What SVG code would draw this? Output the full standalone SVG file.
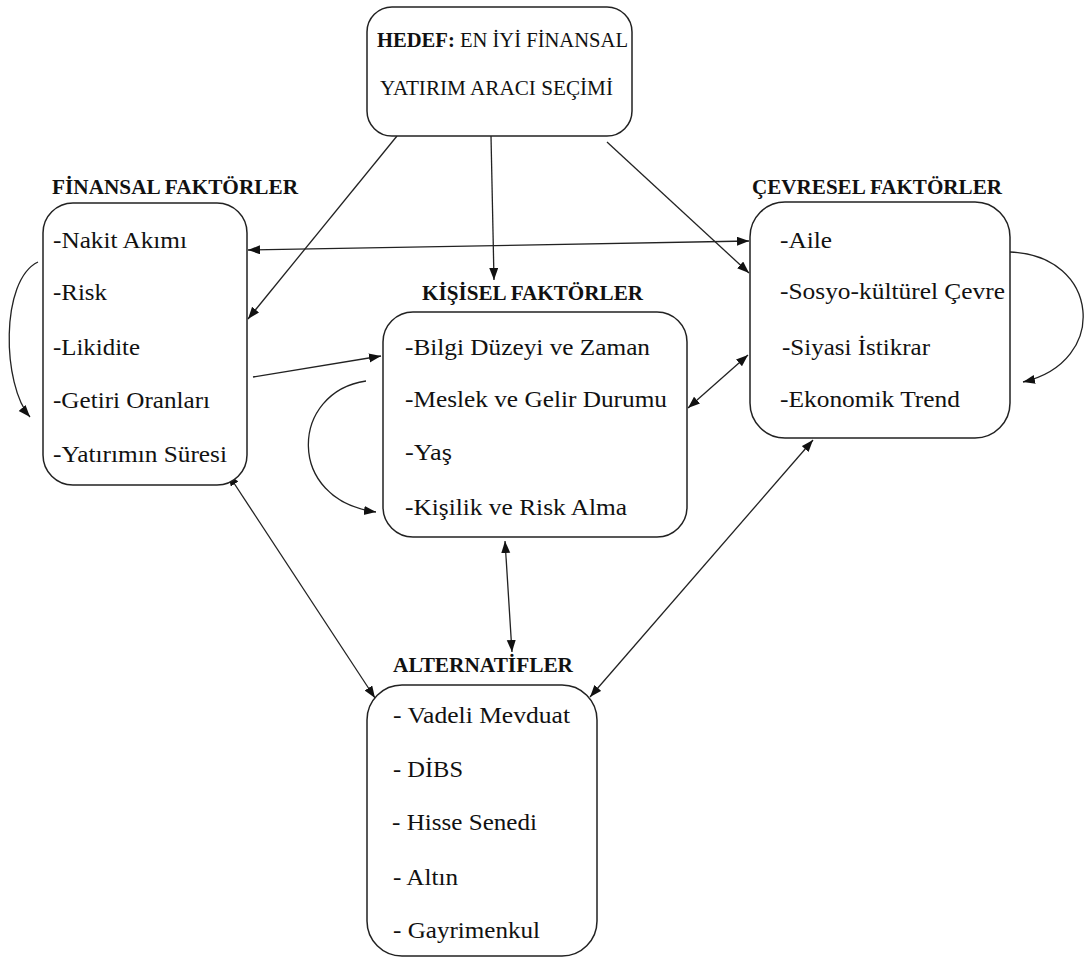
<svg xmlns="http://www.w3.org/2000/svg" width="1088" height="959" viewBox="0 0 1088 959">
<defs>
<style>
.box{fill:#fff;stroke:#222;stroke-width:1.5}
.t{font-family:'Liberation Serif',serif;font-size:23px;fill:#111}
.m{font-family:'Liberation Serif',serif;font-size:21px;fill:#111}
.h{font-family:'Liberation Serif',serif;font-size:21px;font-weight:bold;fill:#111}
.c{fill:none;stroke:#222;stroke-width:1.3}
</style>
<marker id="ah" markerUnits="userSpaceOnUse" markerWidth="13" markerHeight="10" refX="12" refY="4.5" orient="auto-start-reverse">
<path d="M0,0 L12,4.5 L0,9 z" fill="#111"/>
</marker>
</defs>
<rect width="1088" height="959" fill="#fff"/>

<g id="connectors">
<path class="c" d="M397,136 L248,319" marker-end="url(#ah)"/>
<path class="c" d="M491,136 L494,280" marker-end="url(#ah)"/>
<path class="c" d="M607,142 L749,273" marker-end="url(#ah)"/>
<path class="c" d="M248,250 L749,241" marker-start="url(#ah)" marker-end="url(#ah)"/>
<path class="c" d="M253,377 L381,356" marker-end="url(#ah)"/>
<path class="c" d="M688,408 L748,355" marker-start="url(#ah)" marker-end="url(#ah)"/>
<path class="c" d="M228,474 L375,698" marker-start="url(#ah)" marker-end="url(#ah)"/>
<path class="c" d="M505,541 L512,652" marker-start="url(#ah)" marker-end="url(#ah)"/>
<path class="c" d="M813,440 L590,697" marker-start="url(#ah)" marker-end="url(#ah)"/>
<path class="c" d="M38,262 C0,280 2,385 30,417" marker-end="url(#ah)"/>
<path class="c" d="M366,381 C290,392 285,500 376,512" marker-end="url(#ah)"/>
<path class="c" d="M1010,252 C1100,255 1110,362 1023,382" marker-end="url(#ah)"/>
</g>

<g id="hedef">
<rect class="box" x="367" y="7" width="265" height="129" rx="25"/>
<text class="m" x="377" y="47" textLength="251" lengthAdjust="spacingAndGlyphs"><tspan font-weight="bold">HEDEF:</tspan> EN İYİ FİNANSAL</text>
<text class="m" x="380" y="95" textLength="233" lengthAdjust="spacingAndGlyphs">YATIRIM ARACI SEÇİMİ</text>
</g>

<g id="finansal">
<text class="h" x="52" y="194" textLength="246" lengthAdjust="spacingAndGlyphs">FİNANSAL FAKTÖRLER</text>
<rect class="box" x="43" y="203" width="204" height="282" rx="30"/>
<text class="t" x="53" y="248" textLength="134" lengthAdjust="spacingAndGlyphs">-Nakit Akımı</text>
<text class="t" x="53" y="300" textLength="54" lengthAdjust="spacingAndGlyphs">-Risk</text>
<text class="t" x="53" y="355" textLength="87" lengthAdjust="spacingAndGlyphs">-Likidite</text>
<text class="t" x="53" y="408" textLength="157" lengthAdjust="spacingAndGlyphs">-Getiri Oranları</text>
<text class="t" x="53" y="462" textLength="174" lengthAdjust="spacingAndGlyphs">-Yatırımın Süresi</text>
</g>

<g id="cevresel">
<text class="h" x="752" y="194" textLength="250" lengthAdjust="spacingAndGlyphs">ÇEVRESEL FAKTÖRLER</text>
<rect class="box" x="750" y="202" width="260" height="236" rx="35"/>
<text class="t" x="780" y="248" textLength="52" lengthAdjust="spacingAndGlyphs">-Aile</text>
<text class="t" x="780" y="299" textLength="225" lengthAdjust="spacingAndGlyphs">-Sosyo-kültürel Çevre</text>
<text class="t" x="782" y="355" textLength="148" lengthAdjust="spacingAndGlyphs">-Siyasi İstikrar</text>
<text class="t" x="780" y="407" textLength="180" lengthAdjust="spacingAndGlyphs">-Ekonomik Trend</text>
</g>

<g id="kisisel">
<text class="h" x="422" y="300" textLength="221" lengthAdjust="spacingAndGlyphs">KİŞİSEL FAKTÖRLER</text>
<rect class="box" x="383" y="312" width="304" height="225" rx="30"/>
<text class="t" x="405" y="355" textLength="245" lengthAdjust="spacingAndGlyphs">-Bilgi Düzeyi ve Zaman</text>
<text class="t" x="405" y="407" textLength="262" lengthAdjust="spacingAndGlyphs">-Meslek ve Gelir Durumu</text>
<text class="t" x="405" y="460" textLength="47" lengthAdjust="spacingAndGlyphs">-Yaş</text>
<text class="t" x="405" y="515" textLength="222" lengthAdjust="spacingAndGlyphs">-Kişilik ve Risk Alma</text>
</g>

<g id="alternatifler">
<text class="h" x="393" y="672" textLength="180" lengthAdjust="spacingAndGlyphs">ALTERNATİFLER</text>
<rect class="box" x="367" y="685" width="230" height="271" rx="35"/>
<text class="t" x="393" y="723" textLength="177" lengthAdjust="spacingAndGlyphs">- Vadeli Mevduat</text>
<text class="t" x="393" y="777" textLength="70" lengthAdjust="spacingAndGlyphs">- DİBS</text>
<text class="t" x="392" y="830" textLength="145" lengthAdjust="spacingAndGlyphs">- Hisse Senedi</text>
<text class="t" x="393" y="885" textLength="65" lengthAdjust="spacingAndGlyphs">- Altın</text>
<text class="t" x="393" y="938" textLength="147" lengthAdjust="spacingAndGlyphs">- Gayrimenkul</text>
</g>
</svg>
